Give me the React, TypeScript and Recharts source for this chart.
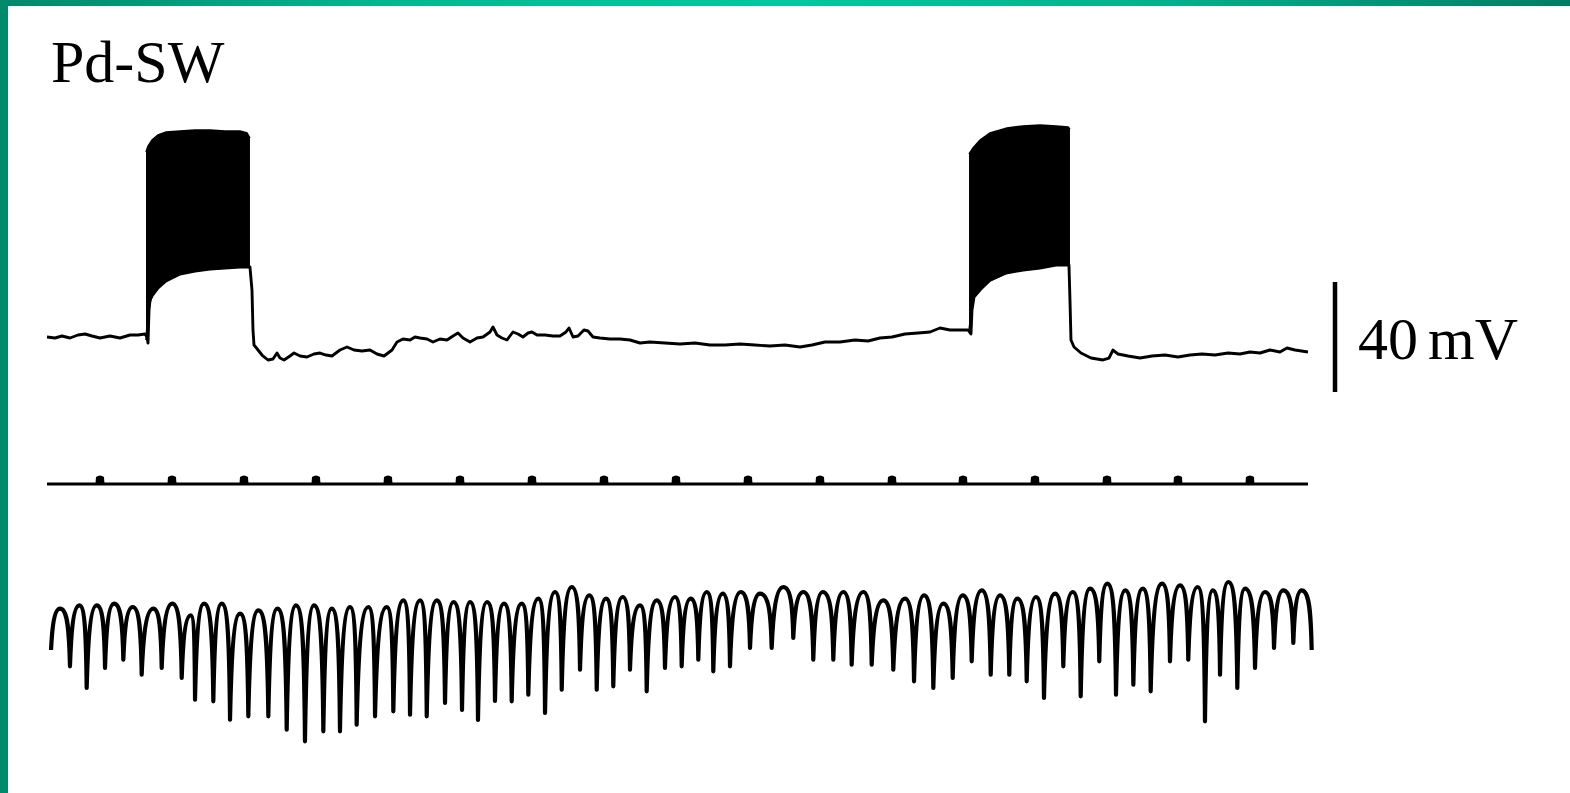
import React from 'react';
import { ComposedChart, Line, Area, XAxis, YAxis, ReferenceLine } from 'recharts';

const recordingTitle = 'Pd-SW';
const scaleBarLabel = '40 mV';

// Membrane potential trace: [time (s), mV]
const vmTrace: [number, number][] = [
  [0, -50], [0.111, -50.36], [0.208, -49.64], [0.319, -50.36], [0.431, -49.27], [0.528, -48.91],
  [0.625, -49.64], [0.736, -50.36], [0.875, -49.64], [1.014, -50.36], [1.153, -49.27], [1.264, -49.27],
  [1.361, -48.91], [1.389, -50], [1.403, -52.18], [1.417, -40.18], [1.431, -36.55], [1.458, -35.09],
  [1.542, -32.18], [1.653, -29.64], [1.847, -27.09], [2.056, -26], [2.264, -25.27], [2.472, -24.91],
  [2.681, -24.55], [2.819, -24.55], [2.847, -32.91], [2.861, -47.45], [2.875, -52.91], [2.931, -54.73],
  [2.986, -56.55], [3.069, -58.36], [3.139, -58], [3.194, -55.82], [3.236, -57.64], [3.292, -58.36],
  [3.375, -56.91], [3.431, -55.82], [3.514, -56.91], [3.611, -57.27], [3.708, -56.18], [3.792, -55.82],
  [3.875, -56.55], [3.958, -56.91], [4.069, -54.73], [4.167, -53.64], [4.264, -54.73], [4.375, -55.09],
  [4.486, -54.73], [4.583, -56.18], [4.681, -56.91], [4.792, -54.73], [4.861, -51.82], [4.944, -50.73],
  [5.042, -51.09], [5.111, -50], [5.181, -50.36], [5.278, -50.73], [5.361, -51.82], [5.458, -50.73],
  [5.556, -51.09], [5.639, -49.64], [5.708, -48.55], [5.778, -50.36], [5.875, -51.82], [5.972, -50.36],
  [6.056, -50], [6.153, -48.18], [6.194, -46.36], [6.25, -49.27], [6.319, -50.36], [6.389, -51.09],
  [6.472, -48.18], [6.542, -48.91], [6.611, -50], [6.681, -48.55], [6.736, -48.18], [6.806, -49.27],
  [6.917, -49.27], [7.028, -49.64], [7.125, -49.64], [7.208, -48.18], [7.25, -46.73], [7.306, -50],
  [7.375, -49.64], [7.458, -47.45], [7.514, -47.82], [7.583, -50], [7.681, -50.36], [7.819, -50.73],
  [7.958, -50.73], [8.097, -51.09], [8.236, -52.18], [8.375, -51.82], [8.583, -52.18], [8.792, -52.55],
  [9.0, -52.18], [9.208, -52.91], [9.417, -52.91], [9.625, -52.55], [9.833, -52.91], [10.042, -53.27],
  [10.25, -52.91], [10.458, -53.64], [10.625, -52.91], [10.806, -51.82], [11.014, -51.82], [11.222, -51.09],
  [11.403, -51.45], [11.569, -50.36], [11.736, -50], [11.917, -48.91], [12.097, -48.55], [12.264, -48.18],
  [12.403, -46.73], [12.542, -47.45], [12.681, -47.45], [12.792, -47.45], [12.833, -48.91], [12.847, -40.18],
  [12.875, -35.45], [12.958, -32.91], [13.097, -29.27], [13.319, -26.73], [13.556, -25.64], [13.792, -24.91],
  [14.014, -23.82], [14.194, -23.82], [14.208, -36.55], [14.222, -51.09], [14.264, -53.64], [14.361, -55.82],
  [14.5, -57.64], [14.667, -58.36], [14.75, -57.64], [14.806, -54.73], [14.875, -56.18], [15.014, -56.91],
  [15.181, -57.64], [15.347, -56.91], [15.528, -56.55], [15.708, -57.27], [15.875, -56.55], [16.042, -56.18],
  [16.222, -56.55], [16.403, -55.82], [16.569, -56.18], [16.708, -55.45], [16.847, -55.82], [16.986, -54.73],
  [17.125, -55.45], [17.222, -54], [17.333, -54.73], [17.514, -55.45],
];

// Spike bursts: [time (s), lower envelope mV, upper envelope mV]
const burst1Band: [number, number, number][] = [
  [1.375, -51.09, 17.27], [1.403, -40.18, 19.45], [1.458, -35.09, 21.64], [1.542, -32.18, 23.45],
  [1.653, -29.64, 24.55], [1.847, -27.09, 24.91], [2.056, -26, 25.27], [2.264, -25.27, 25.27],
  [2.472, -24.91, 24.91], [2.681, -24.55, 24.91], [2.778, -24.55, 24.18], [2.819, -24.55, 22.36],
];
const burst2Band: [number, number, number][] = [
  [12.806, -47.45, 16.55], [12.861, -35.45, 18.73], [12.958, -32.91, 21.64], [13.097, -29.64, 24.18],
  [13.333, -26.73, 26], [13.556, -25.64, 26.73], [13.792, -24.91, 27.09], [14.014, -23.82, 26.73],
  [14.181, -23.82, 26.36], [14.208, -23.82, 25.64],
];

// Time marks (s)
const markerTimes = [0.736, 1.736, 2.736, 3.736, 4.736, 5.736, 6.736, 7.736, 8.736, 9.736, 10.736, 11.736,
  12.722, 13.722, 14.722, 15.708, 16.708];
const markerSpan = [0, 17.514];

// Respiratory movement trace (alternating peaks / troughs): [time (s), a.u.]
const respTrace: [number, number][] = [
  [0.056, 10.0],
  [0.181, 14.13], [0.319, 8.37], [0.449, 14.47], [0.551, 6.2], [0.69, 14.47], [0.806, 8.2],
  [0.931, 14.63], [1.06, 9.03], [1.19, 14.3], [1.315, 7.53], [1.476, 14.13], [1.593, 8.2],
  [1.74, 14.63], [1.871, 7.2], [1.996, 13.47], [2.056, 5.03], [2.181, 14.63], [2.31, 4.87],
  [2.426, 14.63], [2.542, 3.03], [2.681, 13.63], [2.796, 3.37], [2.935, 13.97], [3.074, 3.37],
  [3.199, 14.13], [3.329, 2.03], [3.458, 14.47], [3.583, 0.87], [3.708, 14.47], [3.838, 1.87],
  [3.954, 14.13], [4.069, 1.87], [4.208, 14.3], [4.301, 2.53], [4.463, 14.3], [4.556, 3.37],
  [4.718, 14.3], [4.81, 3.87], [4.949, 14.97], [5.042, 3.53], [5.181, 14.97], [5.274, 3.37],
  [5.413, 14.97], [5.528, 4.7], [5.646, 14.8], [5.764, 4.0], [5.875, 14.8], [5.986, 3.0],
  [6.111, 14.8], [6.222, 4.9], [6.347, 14.63], [6.454, 4.87], [6.593, 14.63], [6.685, 5.53],
  [6.824, 15.13], [6.917, 3.7], [7.056, 15.8], [7.149, 6.03], [7.288, 16.3], [7.403, 8.03],
  [7.532, 15.47], [7.635, 6.03], [7.764, 15.13], [7.865, 6.37], [7.996, 15.3], [8.097, 8.03],
  [8.236, 14.47], [8.329, 5.87], [8.468, 14.97], [8.583, 8.2], [8.722, 15.3], [8.815, 8.37],
  [8.94, 15.13], [9.046, 9.03], [9.163, 15.8], [9.254, 7.87], [9.385, 15.63], [9.486, 8.37],
  [9.635, 15.8], [9.764, 10.2], [9.903, 15.63], [10.065, 10.2], [10.226, 16.3], [10.365, 11.2],
  [10.504, 15.8], [10.643, 9.03], [10.774, 15.8], [10.921, 9.03], [11.06, 15.8], [11.176, 8.53],
  [11.338, 15.8], [11.454, 8.53], [11.615, 14.97], [11.754, 8.03], [11.917, 15.13], [12.042, 6.87],
  [12.181, 15.47], [12.31, 6.2], [12.449, 14.63], [12.579, 7.2], [12.718, 15.47], [12.843, 8.87],
  [12.982, 15.97], [13.107, 7.53], [13.236, 15.47], [13.365, 7.53], [13.476, 15.13], [13.607, 6.87],
  [13.736, 15.3], [13.847, 5.2], [14.0, 15.63], [14.115, 8.37], [14.246, 15.8], [14.357, 5.37],
  [14.486, 16.13], [14.615, 8.87], [14.726, 16.63], [14.847, 5.53], [14.976, 15.97], [15.088, 6.53],
  [15.218, 16.13], [15.329, 5.87], [15.486, 16.63], [15.597, 8.87], [15.736, 16.47], [15.851, 9.03],
  [15.982, 16.3], [16.083, 2.87], [16.19, 15.97], [16.292, 7.53], [16.407, 16.8], [16.532, 6.2],
  [16.639, 16.13], [16.778, 8.2], [16.917, 15.8], [17.042, 10.2], [17.171, 15.97], [17.31, 10.7],
  [17.426, 15.97], [17.565, 10.0],
];

const scaleBarTime = 17.889;
const scaleBarRange = [-70, -30];

const vmData = vmTrace.map(([t, v]) => ({ t, v }));
const burst1Data = burst1Band.map(([t, lo, hi]) => ({ t, band: [lo, hi] }));
const burst2Data = burst2Band.map(([t, lo, hi]) => ({ t, band: [lo, hi] }));
const markerLineData = markerSpan.map((t) => ({ t, m: 0 }));
const markerData = markerTimes.map((t) => ({ t, m: 0 }));
const respData = respTrace.map(([t, r]) => ({ t, r }));

// curve with rounded tops and cusp-like troughs
const respCurve = (context: any) => {
  let pts: number[][] = [];
  return {
    areaStart() {},
    areaEnd() {},
    lineStart() { pts = []; },
    point(x: number, y: number) { pts.push([+x, +y]); },
    lineEnd() {
      if (!pts.length) return;
      context.moveTo(pts[0][0], pts[0][1]);
      for (let i = 1; i < pts.length; i++) {
        const [x0, y0] = pts[i - 1];
        const [x1, y1] = pts[i];
        const dx = x1 - x0;
        const dy = y1 - y0;
        if (dy >= 0) {
          context.bezierCurveTo(x0 + dx * 0.75, y0, x1 - dx * 0.08, y0 + dy * 0.35, x1, y1);
        } else {
          context.bezierCurveTo(x0 + dx * 0.08, y0 + dy * 0.35, x1 - dx * 0.75, y1, x1, y1);
        }
      }
    },
  };
};

const renderBump = (props: any) => {
  const { cx, cy, index } = props;
  if (cx == null || cy == null) return <g key={`b${index}`} />;
  const d = `M${cx - 4.5},${cy} L${cx - 4},${cy - 7} Q${cx},${cy - 10} ${cx + 4},${cy - 7} L${cx + 4.5},${cy} Z`;
  return <path key={`b${index}`} d={d} fill="#000" />;
};

const W = 1570;
const H = 793;

export default function App() {
  return (
    <div style={{ position: 'absolute', left: 0, top: 0, width: W, height: H, background: '#fff', overflow: 'hidden' }}>
      <ComposedChart width={W} height={H} margin={{ top: 0, right: 0, bottom: 0, left: 0 }}>
        <XAxis dataKey="t" type="number" domain={[-0.6528, 21.1528]} allowDataOverflow hide />
        <YAxis yAxisId="vm" type="number" domain={[-215.818, 72.545]} allowDataOverflow hide />
        <YAxis yAxisId="resp" type="number" domain={[-4.3, 75]} allowDataOverflow hide />
        <YAxis yAxisId="mark" type="number" domain={[-30.9, 48.4]} allowDataOverflow hide />
        <Area data={burst1Data} dataKey="band" yAxisId="vm" type="linear" fill="#000" fillOpacity={1} stroke="#000" strokeWidth={1.5} isAnimationActive={false} />
        <Area data={burst2Data} dataKey="band" yAxisId="vm" type="linear" fill="#000" fillOpacity={1} stroke="#000" strokeWidth={1.5} isAnimationActive={false} />
        <Line data={vmData} dataKey="v" yAxisId="vm" type="linear" stroke="#000" strokeWidth={2.9} strokeLinejoin="round" dot={false} activeDot={false} isAnimationActive={false} />
        <Line data={markerLineData} dataKey="m" yAxisId="mark" type="linear" stroke="#000" strokeWidth={3} dot={false} activeDot={false} isAnimationActive={false} />
        <Line data={markerData} dataKey="m" yAxisId="mark" type="linear" stroke="none" dot={renderBump} activeDot={false} isAnimationActive={false} />
        <Line data={respData} dataKey="r" yAxisId="resp" type={respCurve as any} stroke="#000" strokeWidth={4.2} strokeLinejoin="round" dot={false} activeDot={false} isAnimationActive={false} />
        <ReferenceLine yAxisId="vm" segment={[{ x: scaleBarTime, y: scaleBarRange[0] }, { x: scaleBarTime, y: scaleBarRange[1] }]} stroke="#000" strokeWidth={4.5} ifOverflow="visible" />
      </ComposedChart>
      <svg width={W} height={H} style={{ position: 'absolute', left: 0, top: 0, pointerEvents: 'none' }}>
        <text x={51} y={81.7} fontFamily="'Liberation Serif', 'Times New Roman', serif" fontSize={60} fill="#000">{recordingTitle}</text>
        <text x={1358} y={358.5} fontFamily="'Liberation Serif', 'Times New Roman', serif" fontSize={60} wordSpacing={-5} fill="#000">{scaleBarLabel}</text>
      </svg>
      <div style={{ position: 'absolute', left: 0, top: 0, width: W, height: 6, background: 'linear-gradient(90deg, #00876a 0%, #00b890 25%, #00c89e 50%, #00b08a 75%, #007c64 100%)' }} />
      <div style={{ position: 'absolute', left: 0, top: 0, width: 8, height: H, background: '#00896a' }} />
    </div>
  );
}
